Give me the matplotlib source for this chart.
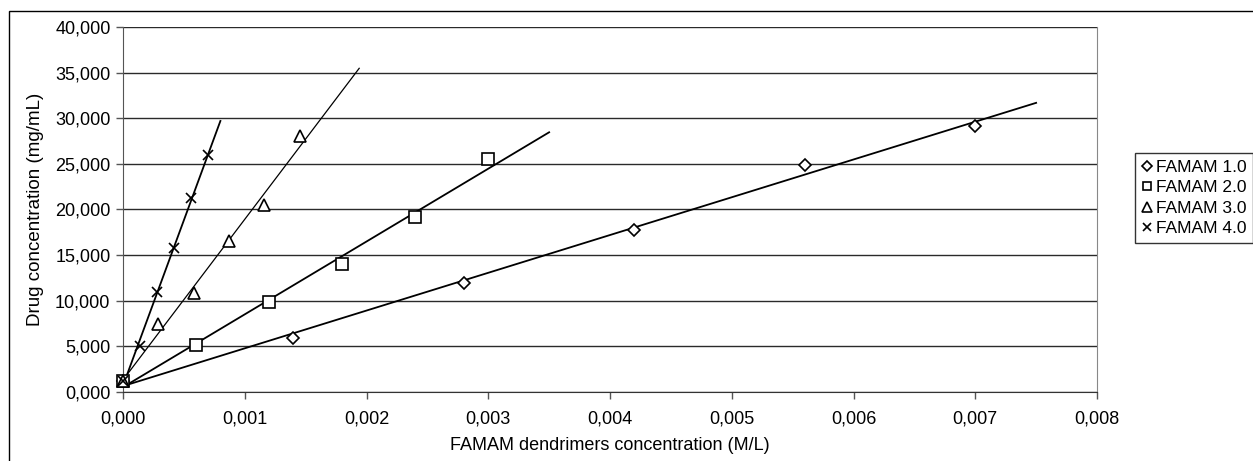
import matplotlib
matplotlib.use("Agg")
import matplotlib.pyplot as plt
import numpy as np
from matplotlib.ticker import FuncFormatter, MultipleLocator
from matplotlib.patches import Rectangle

plt.rcParams['font.family'] = ['Liberation Sans', 'DejaVu Sans']

# Data (x: M/L, y: mg/mL)
x_famam1 = [0.0, 0.0014, 0.0028, 0.0042, 0.0056, 0.0070]
y_famam1 = [1.2, 5.9, 11.9, 17.7, 24.9, 29.2]
x_famam2 = [0.0, 0.0006, 0.0012, 0.0018, 0.0024, 0.0030]
y_famam2 = [1.2, 5.2, 9.9, 14.0, 19.2, 25.5]
x_famam3 = [0.0, 0.00029, 0.00058, 0.00087, 0.00116, 0.00145]
y_famam3 = [1.2, 7.5, 10.8, 16.5, 20.5, 28.0]
x_famam4 = [0.0, 0.00014, 0.00028, 0.00042, 0.00056, 0.00070]
y_famam4 = [1.2, 5.0, 11.0, 15.8, 21.3, 26.0]
# trendline extents (forward forecast)
trend_end = [0.0075, 0.0035, 0.00194, 0.00080]
labels = ['FAMAM 1.0', 'FAMAM 2.0', 'FAMAM 3.0', 'FAMAM 4.0']

series = [(x_famam1, y_famam1), (x_famam2, y_famam2), (x_famam3, y_famam3), (x_famam4, y_famam4)]
markers = ['D', 's', '^', 'x']
msizes = [6.5, 8.0, 8.5, 6.5]
tl_widths = [1.3, 1.3, 0.9, 1.3]

fig = plt.figure(figsize=(12.53, 4.61), dpi=100)
ax = fig.add_axes([123/1253, 1-392/461, (1097-123)/1253, (392-27)/461])

# outer chart border
fig.patches.append(Rectangle((9/1253, -0.1), 1.2, 1-11/461+0.1, transform=fig.transFigure,
                             fill=False, edgecolor='black', linewidth=1.0, zorder=0))

ax.set_xlim(0, 0.008)
ax.set_ylim(0, 40)
ax.xaxis.set_major_locator(MultipleLocator(0.001))
ax.yaxis.set_major_locator(MultipleLocator(5))
ax.xaxis.set_major_formatter(FuncFormatter(lambda v, p: f"{v:.3f}".replace('.', ',')))
ax.yaxis.set_major_formatter(FuncFormatter(lambda v, p: f"{v:.3f}".replace('.', ',')))

ax.yaxis.grid(True, color='#2a2a2a', linewidth=1.0)
ax.set_axisbelow(True)
ax.spines['top'].set_visible(False)
ax.spines['right'].set_color('#888888')
ax.spines['left'].set_color('#555555')
ax.spines['bottom'].set_color('#333333')
ax.tick_params(axis='both', direction='out', length=5, width=1, color='#555555',
               labelsize=13)
ax.tick_params(axis='x', pad=8)
ax.tick_params(axis='y', pad=4)

handles = []
for (xs, ys), m, ms, lw, xe, lab in zip(series, markers, msizes, tl_widths, trend_end, labels):
    xs = np.array(xs); ys = np.array(ys)
    k, b = np.polyfit(xs, ys, 1)
    xx = np.array([0.0, xe])
    ax.plot(xx, k*xx + b, color='black', linewidth=lw, zorder=2)
    if m == 'x':
        h, = ax.plot(xs, ys, linestyle='none', marker=m, markersize=ms, color='black',
                     markeredgewidth=1.2, zorder=3, label=lab, clip_on=False)
    else:
        h, = ax.plot(xs, ys, linestyle='none', marker=m, markersize=ms, markerfacecolor='white',
                     markeredgecolor='black', markeredgewidth=1.2, zorder=3, label=lab, clip_on=False)
    handles.append(h)

ax.set_xlabel('FAMAM dendrimers concentration (M/L)', fontsize=13, labelpad=7)
ax.set_ylabel('Drug concentration (mg/mL)', fontsize=13.5, labelpad=8)

leg = fig.legend(handles=handles, labels=labels, loc='upper left',
                 bbox_to_anchor=(1135/1253, 1-153/461), frameon=True, fancybox=False,
                 fontsize=12.5, handlelength=0.6, handletextpad=0.2, labelspacing=0.3,
                 borderpad=0.4, borderaxespad=0, markerscale=0.8)
leg.get_frame().set_edgecolor('black')
leg.get_frame().set_linewidth(1.0)

fig.savefig('out.png', dpi=100)
